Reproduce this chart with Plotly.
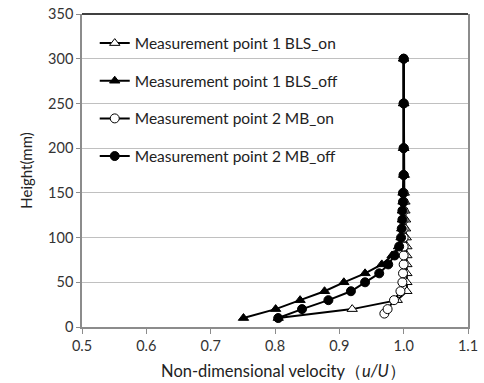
import plotly.graph_objects as go

# Heights (mm)
h_bls = [10, 20, 30, 40, 50, 60, 70, 80, 90, 100, 110, 120, 130, 140, 150, 170, 200, 250, 300]
h_mb_on = [15, 20, 30, 40, 50, 60, 70, 80, 90, 100, 110, 120, 130, 140, 150, 170, 200, 250, 300]
h_mb_off = [10, 20, 30, 40, 50, 60, 70, 80, 90, 100, 110, 120, 130, 140, 150, 170, 200, 250, 300]

# Non-dimensional velocity u/U
bls_on = [0.805, 0.92, 0.99, 1.005, 1.005, 1.005, 1.005, 1.005, 1.005, 1.004, 1.003, 1.003, 1.002, 1.002, 1.001, 1.001, 1.0, 1.0, 1.0]
bls_off = [0.751, 0.801, 0.839, 0.877, 0.907, 0.940, 0.966, 0.982, 0.992, 0.996, 0.997, 0.998, 0.998, 0.999, 0.999, 1.0, 1.0, 1.0, 1.0]
mb_on = [0.970, 0.975, 0.985, 0.995, 0.998, 0.999, 1.0, 1.0, 1.0, 1.0, 1.0, 1.0, 1.0, 1.0, 1.0, 1.0, 1.0, 1.0, 1.0]
mb_off = [0.805, 0.842, 0.883, 0.918, 0.940, 0.962, 0.976, 0.986, 0.993, 0.996, 0.997, 0.998, 0.998, 0.999, 0.999, 1.0, 1.0, 1.0, 1.0]

names = ["Measurement point 1 BLS_on", "Measurement point 1 BLS_off",
         "Measurement point 2 MB_on", "Measurement point 2 MB_off"]

x_ticks = [0.5, 0.6, 0.7, 0.8, 0.9, 1.0, 1.1]
x_tick_text = ["0.5", "0.6", "0.7", "0.8", "0.9", "1.0", "1.1"]
y_ticks = [0, 50, 100, 150, 200, 250, 300, 350]

series = [
    (bls_on, h_bls, "triangle-up", "white"),
    (bls_off, h_bls, "triangle-up", "black"),
    (mb_on, h_mb_on, "circle", "white"),
    (mb_off, h_mb_off, "circle", "black"),
]

fig = go.Figure()
for i, ((xv, yv, sym, fill), nm) in enumerate(zip(series, names)):
    fig.add_trace(go.Scatter(
        x=xv, y=yv, mode="lines+markers", name=nm, legendgroup=f"g{i}",
        line=dict(color="black", width=2),
        marker=dict(symbol=sym, size=9, color=fill,
                    line=dict(color="black", width=1)),
    ))

fig.update_layout(
    width=484, height=383,
    margin=dict(l=82, r=16, t=14, b=56, autoexpand=False),
    paper_bgcolor="white", plot_bgcolor="white",
    font=dict(family="Lato, Open Sans, sans-serif", size=14.5, color="#333333"),
    showlegend=True,
    legend=dict(x=0.033, y=0.96, xanchor="left", yanchor="top",
                bgcolor="rgba(0,0,0,0)", tracegroupgap=14.5,
                font=dict(size=15.5, color="#222222"), itemwidth=30),
    xaxis=dict(range=[0.5, 1.1], tickvals=x_ticks, ticktext=x_tick_text, automargin=False,
               showgrid=False, zeroline=False, showline=True, linecolor="#8c8c8c", linewidth=1.5,
               ticks="outside", ticklen=5, tickcolor="#8c8c8c", ticklabeloverflow="allow",
               title=dict(text="&nbsp;&nbsp;&nbsp;&nbsp;Non-dimensional velocity（<i>u/U</i>）", standoff=12,
                          font=dict(size=16.5, color="#222222"))),
    yaxis=dict(range=[0, 350], tickvals=y_ticks, automargin=False,
               showgrid=True, gridcolor="#c0c0c0", gridwidth=1, zeroline=False,
               showline=True, linecolor="#8c8c8c", linewidth=1.5, mirror=True,
               ticks="outside", ticklen=4, tickcolor="#8c8c8c", ticklabeloverflow="allow",
               title=dict(text="Height(mm)", standoff=12,
                          font=dict(size=15, color="#222222"))),
)
fig.add_shape(type="line", xref="paper", yref="paper", x0=0, x1=1, y0=1, y1=1,
              layer="above", line=dict(color="black", width=1.5))

fig.write_html("out.html", config={"displayModeBar": False},
               post_script="document.body.style.margin='0px';")
